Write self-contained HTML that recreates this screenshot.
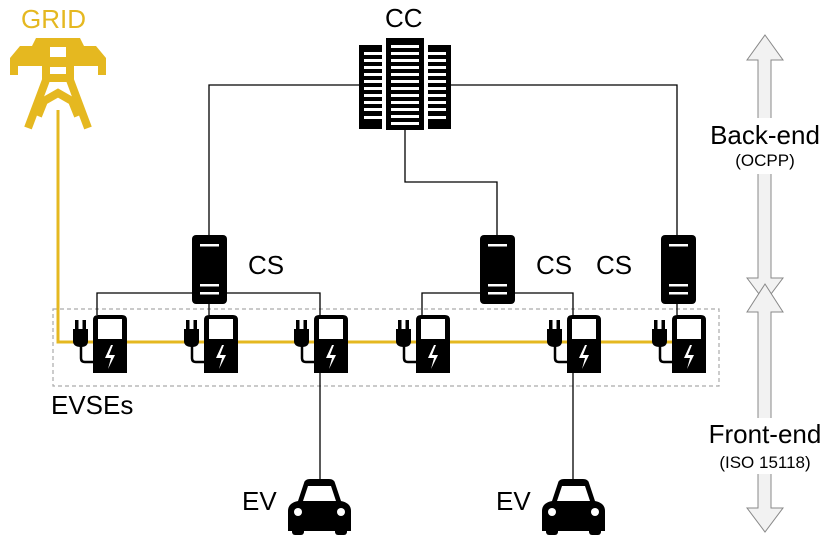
<!DOCTYPE html>
<html><head><style>
html,body{margin:0;padding:0;background:#fff;}
svg{display:block;}
text{font-family:"Liberation Sans",Arial,sans-serif;}
</style></head><body>
<svg width="831" height="537" viewBox="0 0 831 537" xmlns="http://www.w3.org/2000/svg">
<defs>
<g id="chg">
  <path d="M0 5 Q0 0 5 0 H29 Q34 0 34 5 V58 H0 Z" fill="#000"/>
  <rect x="5" y="4" width="24" height="20" fill="#fff"/>
  <path d="M18 30 L12 43 H18 L15 54 L22 40 H16 L20 30 Z" fill="#fff"/>
  <path d="M-12 30 V43 Q-12 47 -8 47 H0" fill="none" stroke="#000" stroke-width="2.5"/>
  <path d="M-20 14 H-5 V26 Q-5 32 -12 32 Q-20 32 -20 26 Z" fill="#000"/>
  <rect x="-18" y="5" width="3.5" height="10" fill="#000"/>
  <rect x="-10.5" y="5" width="3.5" height="10" fill="#000"/>
</g>
<g id="srv">
  <rect x="0" y="0" width="35" height="69" rx="4" fill="#000"/>
  <rect x="8" y="9" width="19" height="2.5" fill="#fff"/>
  <rect x="8" y="49" width="19" height="2.5" fill="#fff"/>
  <rect x="8" y="57" width="19" height="2.5" fill="#fff"/>
</g>
<g id="car">
  <path d="M10 22 L16 4 Q17 0 22 0 H41 Q46 0 47 4 L53 22 Q63 24 63 32 V52 H0 V32 Q0 24 10 22 Z" fill="#000"/>
  <path d="M15 22 L20 7 H43 L48 22 Z" fill="#fff"/>
  <circle cx="10" cy="33" r="4" fill="#fff"/>
  <circle cx="53" cy="33" r="4" fill="#fff"/>
  <rect x="4" y="46" width="12" height="10" rx="3" fill="#000"/>
  <rect x="47" y="46" width="12" height="10" rx="3" fill="#000"/>
</g>
</defs>

<rect x="53" y="309" width="666" height="77" fill="none" stroke="#aaa" stroke-width="1.2" stroke-dasharray="4,3"/>

<polyline points="58,110 58,342 680,342" fill="none" stroke="#e5b820" stroke-width="3"/>

<g fill="none" stroke="#000" stroke-width="1.3">
  <polyline points="209,236 209,85 359,85"/>
  <polyline points="451,85 677,85 677,235"/>
  <polyline points="405,130 405,182 497,182 497,235"/>
  <polyline points="97,315 97,293 320,293 320,315"/>
  <line x1="209" y1="293" x2="209" y2="315"/>
  <polyline points="422,315 422,293 573,293 573,315"/>
  <line x1="677" y1="300" x2="677" y2="315"/>
  <line x1="320" y1="370" x2="320" y2="480"/>
  <line x1="573" y1="370" x2="573" y2="480"/>
</g>

<!-- tower -->
<g fill="#e5b820">
  <path d="M36 38 H80 L84 46 H96 L106 58 V75 H98 V66 H18 V75 H10 V58 L20 46 H32 Z"/>
  <rect x="42" y="38" width="8" height="44"/>
  <rect x="66" y="38" width="8" height="44"/>
  <rect x="42" y="58" width="32" height="9"/>
  <rect x="42" y="74" width="32" height="8"/>
</g>
<rect x="50" y="47" width="16" height="10" fill="#fff"/>
<rect x="50" y="67" width="16" height="7" fill="#fff"/>
<g fill="none" stroke="#e5b820" stroke-width="8">
  <path d="M46 80 L28 128"/>
  <path d="M70 80 L88 128"/>
  <path d="M38 116 L44 101 L58 93 L72 101 L78 116"/>
</g>

<!-- CC -->
<g fill="#000">
  <rect x="359" y="45" width="23" height="84"/>
  <rect x="386" y="38" width="38" height="92"/>
  <rect x="428" y="45" width="23" height="84"/>
</g>
<g fill="#fff">
  <rect x="364" y="52" width="18" height="3"/><rect x="364" y="59" width="18" height="3"/><rect x="364" y="66" width="18" height="3"/><rect x="364" y="73" width="18" height="3"/><rect x="364" y="80" width="18" height="3"/><rect x="364" y="87" width="18" height="3"/><rect x="364" y="94" width="18" height="3"/><rect x="364" y="101" width="18" height="3"/><rect x="364" y="108" width="18" height="3"/><rect x="364" y="116" width="18" height="3"/>
  <rect x="391" y="45" width="28" height="3"/><rect x="391" y="52" width="28" height="3"/><rect x="391" y="59" width="28" height="3"/><rect x="391" y="66" width="28" height="3"/><rect x="391" y="73" width="28" height="3"/><rect x="391" y="80" width="28" height="3"/><rect x="391" y="87" width="28" height="3"/><rect x="391" y="94" width="28" height="3"/><rect x="391" y="101" width="28" height="3"/><rect x="391" y="108" width="28" height="3"/><rect x="391" y="115" width="28" height="3"/><rect x="391" y="122" width="28" height="3"/>
  <rect x="428" y="52" width="18" height="3"/><rect x="428" y="59" width="18" height="3"/><rect x="428" y="66" width="18" height="3"/><rect x="428" y="73" width="18" height="3"/><rect x="428" y="80" width="18" height="3"/><rect x="428" y="87" width="18" height="3"/><rect x="428" y="94" width="18" height="3"/><rect x="428" y="101" width="18" height="3"/><rect x="428" y="108" width="18" height="3"/><rect x="428" y="116" width="18" height="3"/>
</g>

<use href="#srv" x="192" y="235"/>
<use href="#srv" x="480" y="235"/>
<use href="#srv" x="661" y="235"/>

<use href="#chg" x="93" y="315"/>
<use href="#chg" x="204" y="315"/>
<use href="#chg" x="314" y="315"/>
<use href="#chg" x="416" y="315"/>
<use href="#chg" x="567" y="315"/>
<use href="#chg" x="672" y="315"/>

<use href="#car" x="288" y="479"/>
<use href="#car" x="542" y="479"/>

<g fill="#f2f2f2" stroke="#888" stroke-width="1">
  <path d="M765 35 L783 60 H771 V278 H783 L765 302 L747 278 H758 V60 H747 Z"/>
  <path d="M765 284 L783 312 H771 V508 H783 L765 532 L747 508 H758 V312 H747 Z"/>
</g>
<rect x="700" y="118" width="131" height="56" fill="#fff"/>
<rect x="700" y="418" width="131" height="56" fill="#fff"/>

<g font-size="26" fill="#000">
  <text x="21" y="28" fill="#e5b820">GRID</text>
  <text x="385" y="27">CC</text>
  <text x="248" y="274">CS</text>
  <text x="536" y="274">CS</text>
  <text x="596" y="274">CS</text>
  <text x="51" y="414">EVSEs</text>
  <text x="242" y="510">EV</text>
  <text x="496" y="510">EV</text>
  <text x="765" y="144" text-anchor="middle">Back-end</text>
  <text x="765" y="443" text-anchor="middle">Front-end</text>
</g>
<g font-size="17" fill="#000" text-anchor="middle">
  <text x="765" y="166">(OCPP)</text>
  <text x="765" y="468">(ISO 15118)</text>
</g>
</svg>
</body></html>
